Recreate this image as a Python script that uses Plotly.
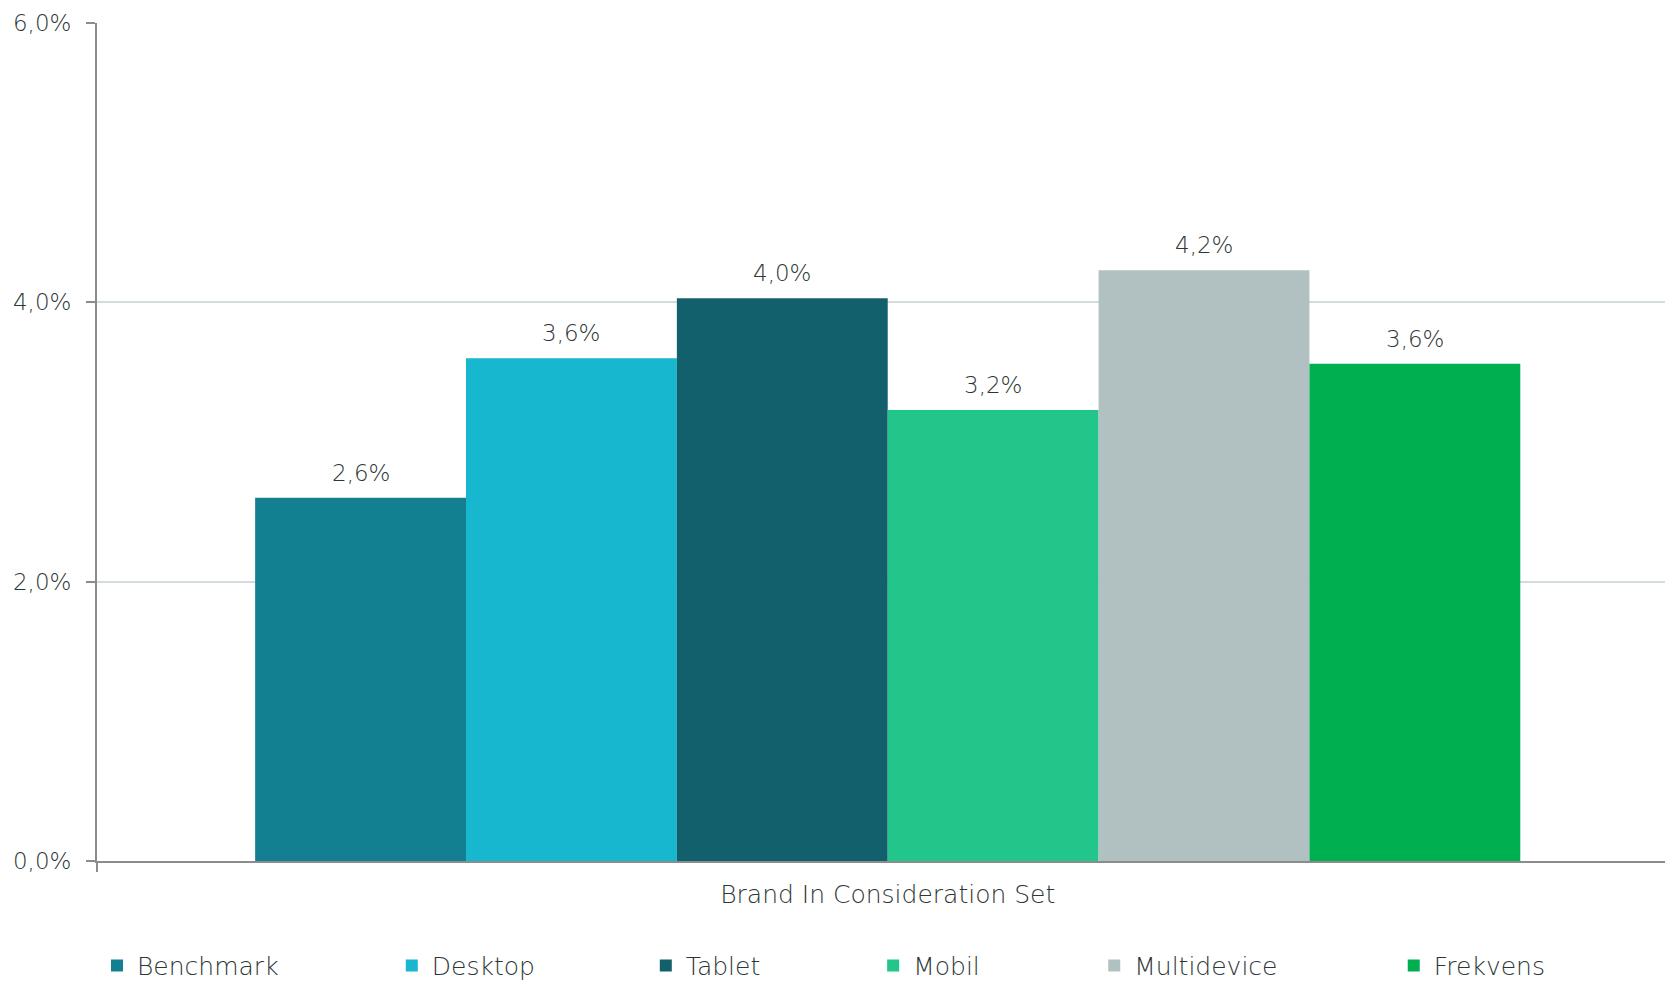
import plotly.graph_objects as go

category = ["Brand In Consideration Set"]
series_names = ["Benchmark", "Desktop", "Tablet", "Mobil", "Multidevice", "Frekvens"]
series_values = [0.0260, 0.0360, 0.0403, 0.0323, 0.0423, 0.0356]
series_colors = ["#128091", "#17B7CF", "#13606D", "#22C58A", "#B1C1C1", "#00AF50"]
y_ticks = [0.0, 0.02, 0.04, 0.06]
legend_x = [0.0, 0.188, 0.35, 0.495, 0.636, 0.827]

FONT = "DejaVu Sans"
TEXT_COLOR = "#2C3636"
BAR_GAP = 0.2

fig = go.Figure()
for i, (name, val, col) in enumerate(zip(series_names, series_values, series_colors)):
    fig.add_trace(go.Bar(
        x=category, y=[val], name=name,
        marker=dict(color=col, line=dict(width=0)),
        legend="legend" if i == 0 else f"legend{i + 1}",
    ))

# value labels above each bar, centred on the bar's slot within the group
n = len(series_values)
slot = (1 - BAR_GAP) / n
annotations = []
for i, val in enumerate(series_values):
    annotations.append(dict(
        x=(i - (n - 1) / 2) * slot, xref="x",
        y=val, yref="y",
        text=f"{val * 100:.1f}".replace(".", ",") + "%",
        showarrow=False, yanchor="middle", yshift=25,
        font=dict(family=FONT, size=23, color=TEXT_COLOR, weight=300),
    ))

layout_legends = {}
for i, lx in enumerate(legend_x):
    key = "legend" if i == 0 else f"legend{i + 1}"
    layout_legends[key] = dict(
        x=lx, y=-0.125, xanchor="left", yanchor="middle",
        orientation="h", bgcolor="rgba(0,0,0,0)",
        font=dict(family=FONT, size=25, color=TEXT_COLOR, weight=300),
        itemwidth=30, tracegroupgap=0,
    )

fig.update_layout(
    width=1665, height=981,
    margin=dict(l=97, r=0, t=23, b=120, autoexpand=False),
    paper_bgcolor="white", plot_bgcolor="white",
    barmode="group", bargap=BAR_GAP, bargroupgap=0,
    separators=", ",
    showlegend=True,
    annotations=annotations,
    xaxis=dict(
        type="category", range=[-0.5, 0.4915],
        showline=True, linecolor="#8C8C8C", linewidth=2,
        ticks="outside", tickson="boundaries", ticklen=9, tickcolor="#8C8C8C", tickwidth=2,
        tickfont=dict(family=FONT, size=25, color=TEXT_COLOR, weight=300),
        ticklabelstandoff=10,
        showgrid=False, zeroline=False,
    ),
    yaxis=dict(
        range=[0, 0.06], tickvals=y_ticks, tickformat=".1%",
        showline=True, linecolor="#8C8C8C", linewidth=2,
        ticks="outside", ticklen=9, tickcolor="#8C8C8C", tickwidth=2,
        tickfont=dict(family=FONT, size=23, color=TEXT_COLOR, weight=300),
        ticklabelstandoff=10,
        showgrid=True, gridcolor="#D3DCDC", gridwidth=2,
        zeroline=False,
    ),
    **layout_legends,
)

fig.write_html("out.html")
